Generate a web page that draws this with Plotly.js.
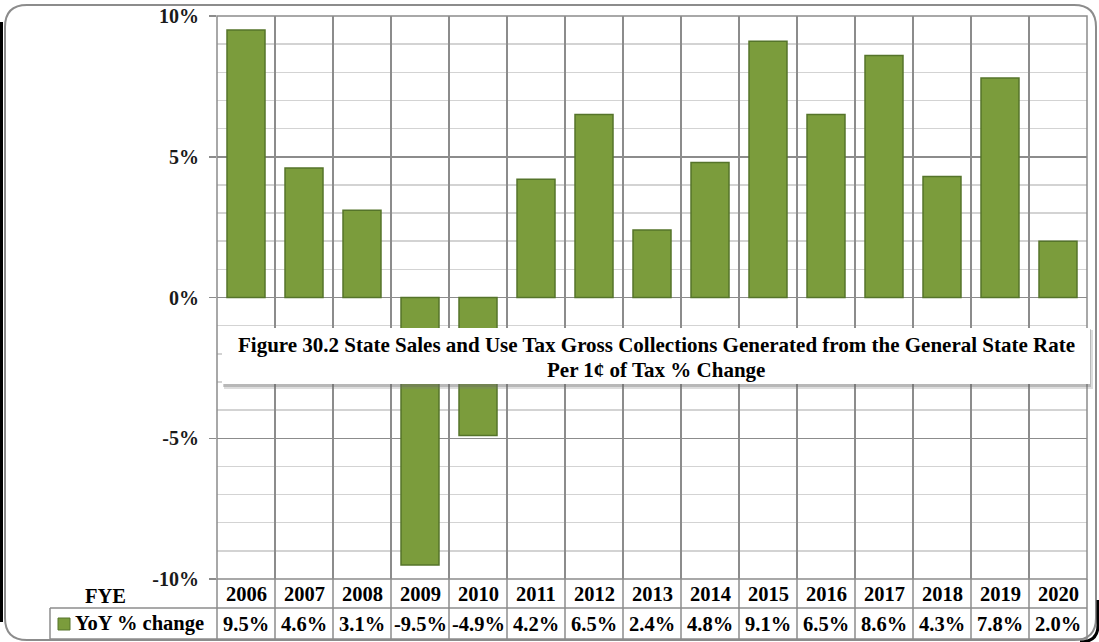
<!DOCTYPE html>
<html><head><meta charset="utf-8">
<script src="https://cdn.plot.ly/plotly-3.0.1.min.js"></script>
<style>html,body{margin:0;padding:0;background:#fff;}#chart{width:1099px;height:642px;}</style>
</head><body><div id="chart"></div>
<script>
const years = ['2006','2007','2008','2009','2010','2011','2012','2013','2014','2015','2016','2017','2018','2019','2020'];
const yoyChange = [9.5, 4.6, 3.1, -9.5, -4.9, 4.2, 6.5, 2.4, 4.8, 9.1, 6.5, 8.6, 4.3, 7.8, 2.0];
const seriesName = 'YoY % change';
const rowLabel = 'FYE';
const titleLines = ['Figure 30.2 State Sales and Use Tax Gross Collections Generated from the General State Rate', 'Per 1¢ of Tax % Change'];
const yTickVals = [-10, -5, 0, 5, 10];
const yTickText = ['-10%', '-5%', '0%', '5%', '10%'];

const W = 1099, H = 642, L = 217, R = 12, T = 16, B = 63;
const pw = W - L - R, ph = H - T - B;
const px = x => (x - L) / pw;
const py = y => (H - B - y) / ph;
const n = years.length;
const font = 'Liberation Serif, Times New Roman, serif';

const xIdx = years.map((_, i) => i);

const shapes = [];
const annotations = [];

const r0 = 579, r1 = 608, r2 = 639;
const gridC = '#8c8c8c';
shapes.push({type:'line', xref:'paper', yref:'paper', x0:0, x1:1, y0:py(r1), y1:py(r1), line:{color:gridC, width:1.5}});
shapes.push({type:'line', xref:'paper', yref:'paper', x0:px(50), x1:1, y0:py(r2), y1:py(r2), line:{color:gridC, width:1.5}});
shapes.push({type:'line', xref:'paper', yref:'paper', x0:px(50), x1:0, y0:py(r1), y1:py(r1), line:{color:gridC, width:1.5}});
shapes.push({type:'line', xref:'paper', yref:'paper', x0:px(50), x1:px(50), y0:py(r1), y1:py(r2), line:{color:gridC, width:1.5}});
for (let i = 0; i <= n; i++) {
  shapes.push({type:'line', xref:'paper', yref:'paper', x0:i/n, x1:i/n, y0:0, y1:py(r2), line:{color:gridC, width:1.5}});
}
shapes.push({type:'rect', xref:'paper', yref:'paper', x0:0, x1:1, y0:0, y1:1, line:{color:gridC, width:1.5}});
// legend key
shapes.push({type:'rect', xref:'paper', yref:'paper', x0:px(58), x1:px(70), y0:py(630), y1:py(618), fillcolor:'#7b9c3c', line:{color:'#56752a', width:1}});

// outer rounded border
const ox0 = px(5), ox1 = px(1096), oy0 = py(5), oy1 = py(640);
const rx = 22 / pw, ry = 22 / ph;
shapes.push({type:'path', xref:'paper', yref:'paper', layer:'below',
  path:`M ${ox0+rx},${oy0} L ${ox1-rx},${oy0} Q ${ox1},${oy0} ${ox1},${oy0-ry} L ${ox1},${oy1+ry} Q ${ox1},${oy1} ${ox1-rx},${oy1} L ${ox0+rx},${oy1} Q ${ox0},${oy1} ${ox0},${oy1+ry} L ${ox0},${oy0-ry} Q ${ox0},${oy0} ${ox0+rx},${oy0} Z`,
  line:{color:'#8c8c8c', width:2}});
shapes.push({type:'line', xref:'paper', yref:'paper', x0:px(1.5), x1:px(1.5), y0:py(22), y1:py(622), line:{color:'#000', width:3}});
shapes.push({type:'path', xref:'paper', yref:'paper',
  path:`M ${px(1098)},${py(600)} L ${px(1098)},${py(625)} Q ${px(1098)},${py(642)} ${px(1080)},${py(642)}`,
  line:{color:'#000', width:3}});

// title box with soft shadow
shapes.push({type:'rect', xref:'paper', yref:'paper', layer:'above', x0:px(224), x1:px(1093), y0:py(389), y1:py(330), fillcolor:'rgba(120,120,120,0.25)', line:{width:0}});
shapes.push({type:'rect', xref:'paper', yref:'paper', layer:'above', x0:px(223), x1:px(1091), y0:py(387), y1:py(329), fillcolor:'rgba(100,100,100,0.3)', line:{width:0}});
shapes.push({type:'rect', xref:'paper', yref:'paper', layer:'above', x0:px(222), x1:px(1090), y0:py(384), y1:py(328), fillcolor:'#ffffff', line:{width:0}});

const titleY = [345, 370];
titleLines.forEach((t, k) => {
  annotations.push({xref:'paper', yref:'paper', x:px(656), y:py(titleY[k]), text:'<b>'+t+'</b>', showarrow:false,
    font:{family:font, size:21, color:'#000'}, xanchor:'center', yanchor:'middle', align:'center'});
});

years.forEach((yr, i) => {
  annotations.push({xref:'paper', yref:'paper', x:(i+0.5)/n, y:py((r0+r1)/2), text:'<b>'+yr+'</b>', showarrow:false,
    font:{family:font, size:20.5, color:'#000'}, xanchor:'center', yanchor:'middle'});
  const v = yoyChange[i];
  annotations.push({xref:'paper', yref:'paper', x:(i+0.5)/n, y:py((r1+r2)/2), text:'<b>'+v.toFixed(1)+'%</b>', showarrow:false,
    font:{family:font, size:20.5, color:'#000'}, xanchor:'center', yanchor:'middle'});
});
annotations.push({xref:'paper', yref:'paper', x:px(105), y:py(596), text:'<b>'+rowLabel+'</b>', showarrow:false,
  font:{family:font, size:20.5, color:'#000'}, xanchor:'center', yanchor:'middle'});
annotations.push({xref:'paper', yref:'paper', x:px(73), y:py((r1+r2)/2), text:'<b>'+seriesName+'</b>', showarrow:false,
  font:{family:font, size:20.5, color:'#000'}, xanchor:'left', yanchor:'middle'});

const trace = {
  type:'bar', x:xIdx, y:yoyChange, width:0.655, name:seriesName,
  marker:{color:'#7b9c3c', line:{color:'#55742a', width:1.5}},
  hoverinfo:'skip'
};

const layout = {
  width:W, height:H,
  margin:{l:L, r:R, t:T, b:B},
  paper_bgcolor:'#ffffff', plot_bgcolor:'#ffffff',
  showlegend:false,
  xaxis:{range:[-0.5, n-0.5], tickvals:xIdx.map(i => i-0.5).concat([n-0.5]), showticklabels:false, ticks:'',
    showgrid:true, gridcolor:gridC, gridwidth:1.5, zeroline:false, showline:false, fixedrange:true},
  yaxis:{range:[-10, 10], tickvals:yTickVals, ticktext:yTickText.map(t => '<b>'+t+'</b>'), ticks:'outside', ticklen:7, tickcolor:gridC, tickwidth:1.5,
    tickfont:{family:font, size:20, color:'#1a1a1a'}, ticklabelstandoff:6,
    showgrid:true, gridcolor:gridC, gridwidth:1.5, zeroline:true, zerolinecolor:gridC, zerolinewidth:1.5,
    minor:{dtick:1, showgrid:true, gridcolor:'#d3d3d3', gridwidth:1.5, ticks:''},
    showline:false, fixedrange:true},
  shapes:shapes, annotations:annotations,
  bargap:0.3
};

Plotly.newPlot('chart', [trace], layout, {displayModeBar:false, staticPlot:true});
</script>
</body></html>
